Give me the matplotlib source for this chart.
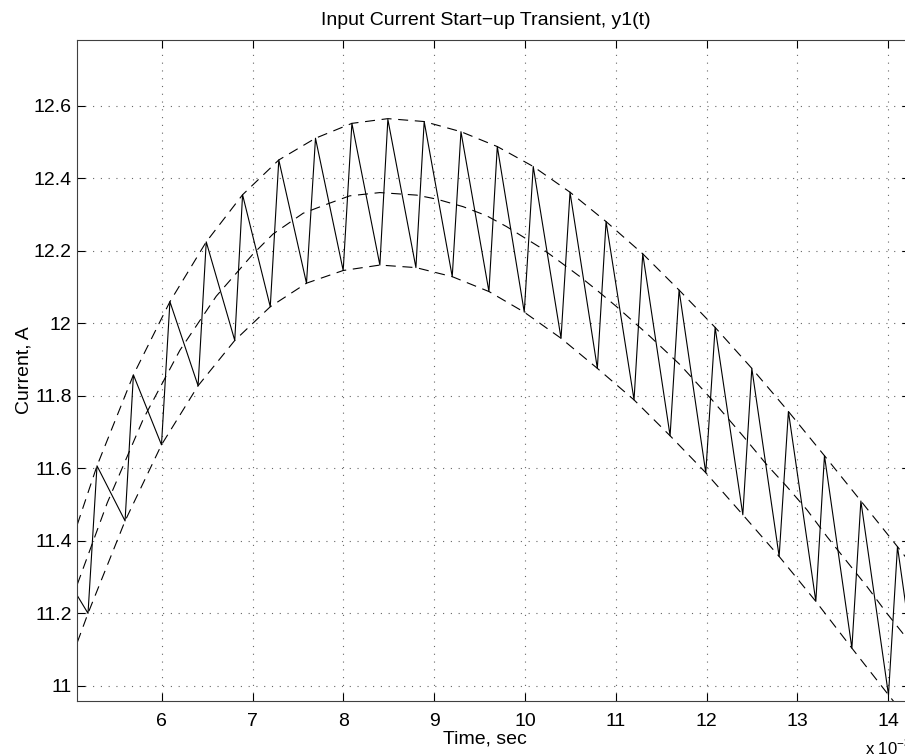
import matplotlib
matplotlib.use('Agg')
from matplotlib import pyplot as plt
from matplotlib.ticker import FormatStrFormatter

# ripple current, alternating valley / peak points
t_ripple = [5.07, 5.188, 5.287, 5.596, 5.688, 5.997, 6.09, 6.40, 6.49, 6.804,
            6.89, 7.195, 7.289, 7.594, 7.693, 7.998, 8.094, 8.402, 8.490, 8.799,
            8.890, 9.199, 9.295, 9.603, 9.695, 9.992, 10.091, 10.397, 10.496, 10.797,
            10.893, 11.201, 11.297, 11.598, 11.697, 11.991, 12.094, 12.399, 12.498, 12.799,
            12.901, 13.203, 13.298, 13.600, 13.699, 14.003, 14.102, 14.24]
i_ripple = [11.249, 11.200, 11.607, 11.455, 11.858, 11.665, 12.06, 11.828, 12.225, 11.953,
            12.355, 12.046, 12.451, 12.111, 12.511, 12.146, 12.552, 12.161, 12.563, 12.154,
            12.557, 12.129, 12.529, 12.088, 12.488, 12.031, 12.433, 11.959, 12.362, 11.876,
            12.281, 11.789, 12.192, 11.690, 12.092, 11.588, 11.989, 11.472, 11.876, 11.357,
            11.757, 11.233, 11.635, 11.104, 11.510, 10.975, 11.384, 11.14]

# dashed envelopes
t_upper = [5.07, 5.287, 5.688, 6.09, 6.49, 6.89, 7.289, 7.693, 8.094, 8.49,
           8.89, 9.295, 9.695, 10.091, 10.496, 10.893, 11.297, 11.697, 12.094, 12.498,
           12.901, 13.298, 13.699, 14.102, 14.24]
i_upper = [11.445, 11.607, 11.858, 12.06, 12.225, 12.355, 12.451, 12.511, 12.552, 12.565,
           12.557, 12.529, 12.488, 12.433, 12.362, 12.281, 12.192, 12.092, 11.989, 11.876,
           11.757, 11.635, 11.510, 11.384, 11.34]

t_mid = [5.07, 5.4, 5.8, 6.2, 6.6, 7.0, 7.227, 7.557, 7.851, 8.07,
         8.402, 8.807, 9.027, 9.32, 9.578, 9.798, 10.184, 10.386, 10.606, 10.79,
         11.01, 11.377, 11.708, 12.039, 12.406, 12.663, 12.883, 13.104, 13.325, 13.545,
         13.766, 13.986, 14.24]
i_mid = [11.28, 11.505, 11.738, 11.926, 12.075, 12.19, 12.247, 12.304, 12.332, 12.352,
         12.361, 12.354, 12.343, 12.322, 12.297, 12.267, 12.207, 12.170, 12.129, 12.092,
         12.046, 11.964, 11.886, 11.795, 11.688, 11.610, 11.550, 11.486, 11.412, 11.343,
         11.274, 11.20, 11.12]

t_lower = [5.07, 5.188, 5.596, 5.997, 6.40, 6.804, 7.195, 7.594, 7.998, 8.402,
           8.799, 9.199, 9.603, 9.992, 10.397, 10.797, 11.201, 11.598, 11.991, 12.399,
           12.799, 13.203, 13.600, 14.003, 14.24]
i_lower = [11.12, 11.200, 11.455, 11.665, 11.828, 11.953, 12.046, 12.111, 12.146, 12.161,
           12.154, 12.129, 12.088, 12.031, 11.959, 11.876, 11.789, 11.690, 11.588, 11.472,
           11.357, 11.233, 11.104, 10.975, 10.90]

x_ticks = [6, 7, 8, 9, 10, 11, 12, 13, 14]
y_ticks = [11, 11.2, 11.4, 11.6, 11.8, 12, 12.2, 12.4, 12.6]

plt.rcParams['font.family'] = ['Liberation Sans', 'DejaVu Sans']
plt.rcParams['mathtext.fontset'] = 'custom'
plt.rcParams['mathtext.rm'] = 'Liberation Sans'

fs = 14

fig = plt.figure(figsize=(9.05, 7.55), dpi=100)
ax = fig.add_axes([77.3 / 905, 54.3 / 755, 832.7 / 905, 660.7 / 755])

dash = (0, (9, 6))
ax.plot(t_upper, i_upper, color='k', linewidth=0.8, linestyle=dash)
ax.plot(t_mid, i_mid, color='k', linewidth=0.8, linestyle=dash)
ax.plot(t_lower, i_lower, color='k', linewidth=0.8, linestyle=dash)
ax.plot(t_ripple, i_ripple, color='k', linewidth=0.8)

ax.set_xlim(5.07, 14.24)
ax.set_ylim(10.959, 12.782)
ax.set_xticks(x_ticks)
ax.set_yticks(y_ticks)
ax.yaxis.set_major_formatter(FormatStrFormatter('%g'))

ax.grid(True, color='0.4', linestyle=(0, (1, 6)), linewidth=0.8)
ax.tick_params(direction='in', length=6, width=0.8, labelsize=fs,
               top=True, right=True)
ax.tick_params(axis='x', pad=8.5)
ax.tick_params(axis='y', pad=4)
for s in ax.spines.values():
    s.set_color('0.25')
    s.set_linewidth(0.8)

ax.set_title('Input Current Start\u2212up Transient, y1(t)', fontsize=fs, pad=11,
             x=(486 - 77.3) / 832.7)
ax.set_xlabel('Time, sec', fontsize=fs, labelpad=1, x=(485 - 77.3) / 832.7)
ax.set_ylabel('Current, A', fontsize=fs, labelpad=1)

# exponent label, clipped by the right edge like the original
fig.text(865 / 905, 1 - 757 / 755, r'x 10$^{-3}$', fontsize=12, ha='left', va='bottom')

fig.savefig('out.png', dpi=100)
